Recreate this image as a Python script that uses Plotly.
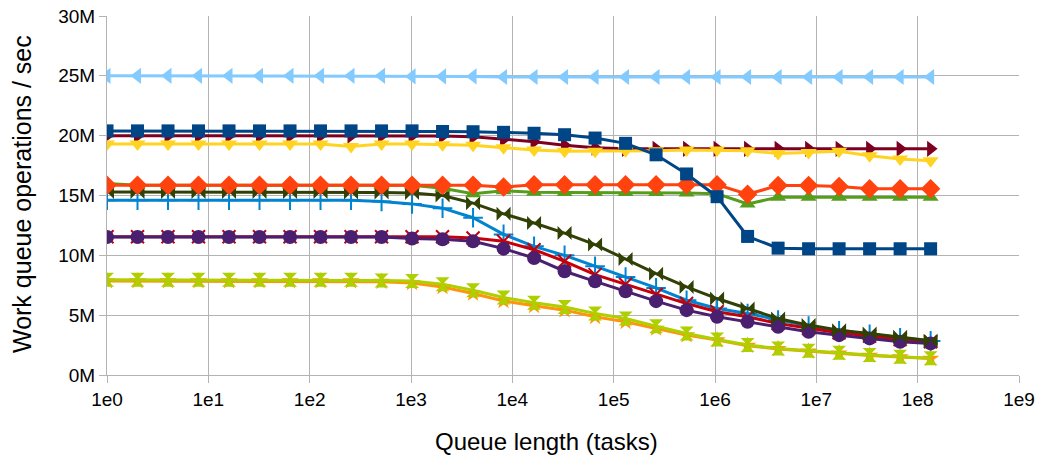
import plotly.graph_objects as go

queue_len = [1, 2, 4, 8, 16, 32, 64, 128, 256, 512, 1024, 2048, 4096, 8192,
             16384, 32768, 65536, 131072, 262144, 524288, 1048576, 2097152,
             4194304, 8388608, 16777216, 33554432, 67108864, 134217728]

s_square = [20.4, 20.4, 20.4, 20.4, 20.4, 20.4, 20.4, 20.4, 20.4, 20.4, 20.4, 20.35, 20.33, 20.28,
            20.2, 20.08, 19.8, 19.36, 18.4, 16.8, 14.9, 11.58, 10.6, 10.55, 10.55, 10.55, 10.55, 10.55]
s_diamond = [15.85, 15.85, 15.85, 15.85, 15.85, 15.85, 15.85, 15.85, 15.85, 15.85, 15.85, 15.85, 15.85, 15.7,
             15.9, 15.9, 15.9, 15.9, 15.9, 15.9, 15.9, 15.1, 15.83, 15.83, 15.75, 15.56, 15.56, 15.56]
s_down = [19.3, 19.3, 19.3, 19.3, 19.3, 19.3, 19.3, 19.3, 19.1, 19.3, 19.3, 19.25, 19.2, 19.0,
          18.8, 18.7, 18.7, 18.75, 18.75, 18.8, 18.8, 18.75, 18.5, 18.6, 18.7, 18.33, 18.05, 17.9]
s_up = [16.0, 15.85, 15.85, 15.85, 15.85, 15.85, 15.85, 15.85, 15.85, 15.85, 15.85, 15.6, 15.14, 15.4,
        15.28, 15.25, 15.25, 15.25, 15.25, 15.2, 15.15, 14.3, 14.85, 14.85, 14.85, 14.85, 14.85, 14.85]
s_right = [20.0, 20.0, 20.0, 20.0, 20.0, 20.0, 20.0, 20.0, 20.0, 20.0, 20.0, 19.97, 19.9, 19.7,
           19.5, 19.2, 19.0, 18.9, 18.9, 18.9, 18.9, 18.9, 18.9, 18.9, 18.9, 18.9, 18.9, 18.9]
s_left = [25.0, 25.0, 25.0, 25.0, 25.0, 25.0, 25.0, 25.0, 25.0, 25.0, 24.95, 24.95, 24.95, 24.9,
          24.9, 24.9, 24.9, 24.9, 24.9, 24.9, 24.9, 24.9, 24.9, 24.9, 24.9, 24.9, 24.9, 24.9]
s_bowtie = [15.3, 15.3, 15.3, 15.3, 15.3, 15.3, 15.3, 15.3, 15.25, 15.25, 15.2, 15.0, 14.36, 13.47,
            12.7, 11.86, 10.9, 9.7, 8.47, 7.36, 6.39, 5.56, 4.72, 4.17, 3.75, 3.47, 3.19, 2.86]
s_hourglass = [7.95, 7.95, 7.95, 7.95, 7.95, 7.95, 7.95, 7.95, 7.95, 7.9, 7.86, 7.58, 7.08, 6.47,
               6.03, 5.69, 5.14, 4.72, 4.08, 3.47, 2.97, 2.5, 2.22, 2.03, 1.86, 1.67, 1.53, 1.39]
s_circle = [11.53, 11.53, 11.53, 11.53, 11.53, 11.53, 11.53, 11.53, 11.53, 11.53, 11.4, 11.35, 11.17, 10.56,
            9.78, 8.67, 7.83, 7.0, 6.17, 5.42, 4.86, 4.44, 4.03, 3.61, 3.33, 3.06, 2.78, 2.64]
s_star = [7.85, 7.85, 7.85, 7.85, 7.85, 7.85, 7.85, 7.85, 7.85, 7.8, 7.69, 7.36, 6.81, 6.19,
          5.78, 5.42, 4.86, 4.44, 3.89, 3.33, 2.92, 2.45, 2.18, 1.98, 1.82, 1.63, 1.5, 1.37]
s_x = [11.55, 11.55, 11.55, 11.55, 11.55, 11.55, 11.55, 11.55, 11.55, 11.55, 11.55, 11.55, 11.45, 11.17,
       10.47, 9.5, 8.39, 7.58, 6.72, 5.97, 5.28, 4.86, 4.31, 3.89, 3.53, 3.25, 2.97, 2.78]
s_plus = [14.6, 14.6, 14.6, 14.6, 14.6, 14.6, 14.6, 14.6, 14.6, 14.5, 14.3, 13.94, 13.14, 11.75,
          10.75, 10.0, 9.08, 8.19, 7.28, 6.25, 5.56, 5.14, 4.6, 4.1, 3.7, 3.4, 3.1, 2.85]

x_tick_vals = [1, 10, 100, 1000, 10000, 100000, 1000000, 10000000, 100000000, 1000000000]
x_tick_text = ["1e0", "1e1", "1e2", "1e3", "1e4", "1e5", "1e6", "1e7", "1e8", "1e9"]
y_tick_vals = [0, 5, 10, 15, 20, 25, 30]
y_tick_text = ["0M", "5M", "10M", "15M", "20M", "25M", "30M"]

series = [
    (s_square, "#004586", "square", 13, False),
    (s_diamond, "#ff420e", "diamond", 15, False),
    (s_down, "#ffd320", "triangle-down", 14, False),
    (s_up, "#579d1c", "triangle-up", 14, False),
    (s_right, "#7e0021", "triangle-right", 14, False),
    (s_left, "#83caff", "triangle-left", 14, False),
    (s_bowtie, "#314004", "bowtie", 14, False),
    (s_hourglass, "#aecf00", "hourglass", 14, False),
    (s_circle, "#4b1f6f", "circle", 14, False),
    (s_star, "#ff950e", "star", 13, False),
    (s_x, "#c5000b", "x-thin-open", 13, True),
    (s_plus, "#0084d1", "cross-thin-open", 14, True),
]

fig = go.Figure()
for vals, color, sym, size, thin in reversed(series):
    marker = dict(symbol=sym, size=size, color=color)
    if thin:
        marker["line"] = dict(color=color, width=2)
    else:
        marker["line"] = dict(width=0)
    fig.add_trace(go.Scatter(
        x=queue_len, y=vals, mode="lines+markers",
        line=dict(color=color, width=3),
        marker=marker, showlegend=False,
    ))

font_family = "Liberation Sans, Arial, sans-serif"
fig.update_layout(
    width=1039, height=460,
    margin=dict(l=107, r=20, t=16, b=85, pad=0, autoexpand=False),
    paper_bgcolor="white", plot_bgcolor="white",
    font=dict(family=font_family, size=19, color="#000000"),
    xaxis=dict(
        type="log", range=[0, 9], automargin=False,
        tickvals=x_tick_vals, ticktext=x_tick_text,
        showgrid=True, gridcolor="#b3b3b3", gridwidth=1,
        showline=True, linecolor="#b3b3b3", linewidth=1,
        ticks="outside", ticklen=7, tickcolor="#b3b3b3",
        zeroline=False, mirror=False,
        tickfont=dict(size=19),
    ),
    yaxis=dict(
        range=[0, 30], automargin=False,
        tickvals=y_tick_vals, ticktext=y_tick_text,
        showgrid=True, gridcolor="#b3b3b3", gridwidth=1,
        showline=True, linecolor="#b3b3b3", linewidth=1,
        ticks="outside", ticklen=7, tickcolor="#b3b3b3",
        zeroline=False,
        tickfont=dict(size=19),
    ),
    annotations=[
        dict(text="Queue length (tasks)", xref="paper", yref="paper",
             x=(546 - 107) / 912, y=0, yshift=-66, xanchor="center", yanchor="middle",
             showarrow=False, font=dict(size=24)),
        dict(text="Work queue operations / sec", xref="paper", yref="paper",
             x=0, xshift=-85, y=(375 - 194) / 359, textangle=-90,
             xanchor="center", yanchor="middle",
             showarrow=False, font=dict(size=25)),
    ],
)

fig.write_html("out.html")
